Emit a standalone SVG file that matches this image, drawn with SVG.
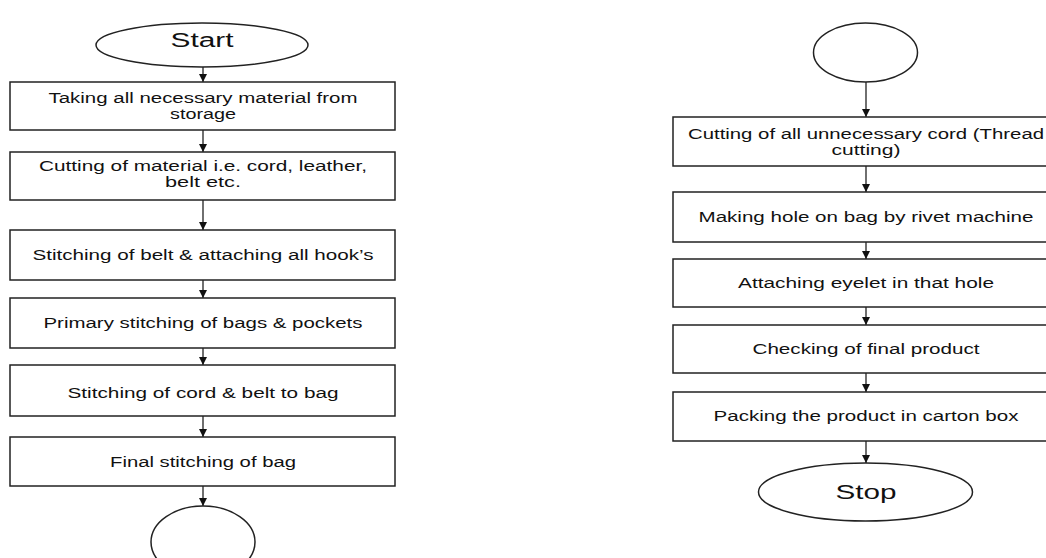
<svg xmlns="http://www.w3.org/2000/svg" width="1046" height="558" viewBox="0 0 1046 558">
<style>
.b{fill:#fff;stroke:#222;stroke-width:1.5}
.t{font-family:"Liberation Sans",Arial,sans-serif;font-size:14px;fill:#111;text-anchor:middle}
.big{font-size:20px}
.c{stroke:#222;stroke-width:1.3;fill:none;marker-end:url(#ah)}
</style>
<defs>
<marker id="ah" viewBox="0 0 10 10" refX="10" refY="5" markerWidth="8" markerHeight="8" markerUnits="userSpaceOnUse" orient="auto">
<path d="M0,0 L10,5 L0,10 z" fill="#111"/>
</marker>
</defs>
<rect width="1046" height="558" fill="#fff"/>
<g id="connectors">
<line class="c" x1="203" y1="67" x2="203" y2="82"/>
<line class="c" x1="203" y1="130" x2="203" y2="152"/>
<line class="c" x1="203" y1="200" x2="203" y2="230"/>
<line class="c" x1="203" y1="280" x2="203" y2="298"/>
<line class="c" x1="203" y1="348" x2="203" y2="365"/>
<line class="c" x1="203" y1="416" x2="203" y2="437"/>
<line class="c" x1="203" y1="486" x2="203" y2="506"/>
<line class="c" x1="866" y1="82" x2="866" y2="117"/>
<line class="c" x1="866" y1="166" x2="866" y2="192"/>
<line class="c" x1="866" y1="242" x2="866" y2="259"/>
<line class="c" x1="866" y1="307" x2="866" y2="325"/>
<line class="c" x1="866" y1="373" x2="866" y2="392"/>
<line class="c" x1="866" y1="441" x2="866" y2="463"/>
</g>
<g id="start">
<ellipse class="b" cx="202" cy="45" rx="106" ry="22"/>
<text class="t big" x="202" y="47" textLength="63" lengthAdjust="spacingAndGlyphs">Start</text>
</g>
<g id="n1">
<rect class="b" x="10" y="82" width="385" height="48"/>
<text class="t" x="203" y="103" textLength="309" lengthAdjust="spacingAndGlyphs">Taking all necessary material from</text>
<text class="t" x="203" y="119" textLength="66" lengthAdjust="spacingAndGlyphs">storage</text>
</g>
<g id="n2">
<rect class="b" x="10" y="152" width="385" height="48"/>
<text class="t" x="203" y="171" textLength="328" lengthAdjust="spacingAndGlyphs">Cutting of material i.e. cord, leather,</text>
<text class="t" x="203" y="187" textLength="76" lengthAdjust="spacingAndGlyphs">belt etc.</text>
</g>
<g id="n3">
<rect class="b" x="10" y="230" width="385" height="50"/>
<text class="t" x="203" y="260" textLength="341" lengthAdjust="spacingAndGlyphs">Stitching of belt &amp; attaching all hook’s</text>
</g>
<g id="n4">
<rect class="b" x="10" y="298" width="385" height="50"/>
<text class="t" x="203" y="328" textLength="319" lengthAdjust="spacingAndGlyphs">Primary stitching of bags &amp; pockets</text>
</g>
<g id="n5">
<rect class="b" x="10" y="365" width="385" height="51"/>
<text class="t" x="203" y="398" textLength="271" lengthAdjust="spacingAndGlyphs">Stitching of cord &amp; belt to bag</text>
</g>
<g id="n6">
<rect class="b" x="10" y="437" width="385" height="49"/>
<text class="t" x="203" y="467" textLength="186" lengthAdjust="spacingAndGlyphs">Final stitching of bag</text>
</g>
<g id="connA">
<ellipse class="b" cx="203" cy="542" rx="52" ry="36"/>
</g>
<g id="connB">
<ellipse class="b" cx="865.5" cy="52.5" rx="52" ry="29.5"/>
</g>
<g id="m1">
<rect class="b" x="673" y="117" width="390" height="49"/>
<text class="t" x="866" y="139" textLength="356" lengthAdjust="spacingAndGlyphs">Cutting of all unnecessary cord (Thread</text>
<text class="t" x="866" y="155" textLength="69" lengthAdjust="spacingAndGlyphs">cutting)</text>
</g>
<g id="m2">
<rect class="b" x="673" y="192" width="390" height="50"/>
<text class="t" x="866" y="222" textLength="335" lengthAdjust="spacingAndGlyphs">Making hole on bag by rivet machine</text>
</g>
<g id="m3">
<rect class="b" x="673" y="259" width="390" height="48"/>
<text class="t" x="866" y="288" textLength="256" lengthAdjust="spacingAndGlyphs">Attaching eyelet in that hole</text>
</g>
<g id="m4">
<rect class="b" x="673" y="325" width="390" height="48"/>
<text class="t" x="866" y="354" textLength="227" lengthAdjust="spacingAndGlyphs">Checking of final product</text>
</g>
<g id="m5">
<rect class="b" x="673" y="392" width="390" height="49"/>
<text class="t" x="866" y="421" textLength="305" lengthAdjust="spacingAndGlyphs">Packing the product in carton box</text>
</g>
<g id="stop">
<ellipse class="b" cx="865.5" cy="492" rx="107" ry="29"/>
<text class="t big" x="866" y="499" textLength="61" lengthAdjust="spacingAndGlyphs">Stop</text>
</g>
</svg>
